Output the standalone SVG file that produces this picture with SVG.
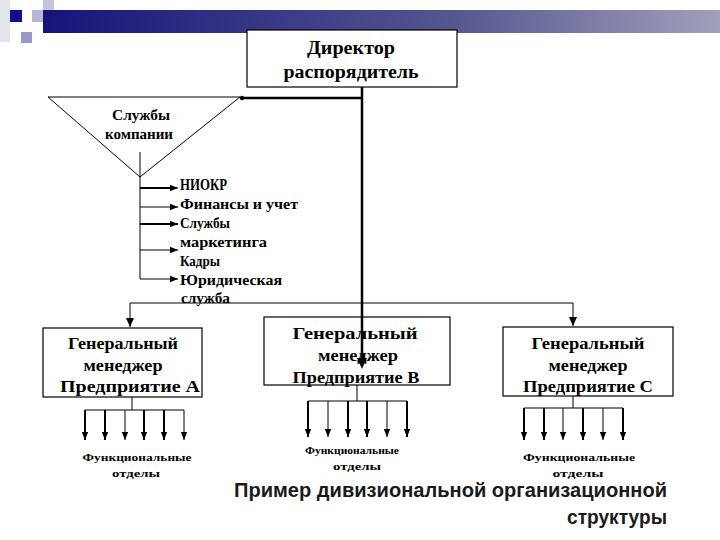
<svg xmlns="http://www.w3.org/2000/svg" width="720" height="540" viewBox="0 0 720 540">
<style>
.t{font-family:"Liberation Serif","Times New Roman",serif;font-weight:bold;fill:#000;text-anchor:middle}
.big{font-size:18px}
.mid{font-size:17px}
.sm{font-size:15px}
.lst{font-size:15px;text-anchor:start}
.tiny{font-size:11px}
.box{fill:#fff;stroke:#000;stroke-width:1.2}
.ln{stroke:#000;stroke-width:1;fill:none}
.thk{stroke:#000;stroke-width:2.5;fill:none}
.cap{font-family:"Liberation Sans",Arial,sans-serif;font-size:20px;font-weight:bold;fill:#1a1a1a;text-anchor:end}
</style>
<defs>
<linearGradient id="bar" x1="0" y1="0" x2="1" y2="0">
<stop offset="0" stop-color="#14147a"/>
<stop offset="0.6" stop-color="#55558f"/>
<stop offset="1" stop-color="#a0a0bc"/>
</linearGradient>
<marker id="ar" viewBox="0 0 10 10" refX="10" refY="5" markerWidth="8" markerHeight="8" markerUnits="userSpaceOnUse" orient="auto">
<path d="M0,1 L10,5 L0,9 z" fill="#000"/>
</marker>
</defs>
<g id="decor">
<rect x="0" y="0" width="10" height="42" fill="#e4e4ec"/>
<rect x="43" y="0" width="11" height="11" fill="#c4c4dc"/>
<rect x="32" y="10" width="22" height="12" fill="#b8b8d4"/>
<rect x="10" y="10" width="12" height="12" fill="#10108a"/>
<rect x="21" y="32" width="11" height="11" fill="#9898c8"/>
<rect x="43" y="10" width="677" height="23" fill="url(#bar)"/>
</g>
<g id="connectors">
<polyline class="thk" points="242,98 362,98"/>
<circle cx="242" cy="98" r="2.2" fill="#000"/>
<line class="thk" x1="362" y1="87" x2="362" y2="360"/>
<path d="M357,358 L362,369 L367,358 z" fill="#000"/>
<line class="ln" x1="140" y1="152" x2="140" y2="279"/>
<line class="thk" x1="140" y1="188" x2="170" y2="188" style="stroke-width:2"/>
<line class="ln" x1="170" y1="188" x2="178" y2="188" marker-end="url(#ar)"/>
<line class="ln" x1="140" y1="207" x2="178" y2="207" marker-end="url(#ar)"/>
<line class="ln" x1="140" y1="224" x2="178" y2="224" marker-end="url(#ar)" style="stroke-width:2"/>
<line class="ln" x1="140" y1="250" x2="178" y2="250" marker-end="url(#ar)"/>
<line class="ln" x1="140" y1="279" x2="178" y2="279" marker-end="url(#ar)"/>
<polyline class="ln" points="130,327 130,303 573,303 573,326"/>
<path d="M126,318 L130,327 L134,318 z" fill="#000"/>
<path d="M569,317 L573,326 L577,317 z" fill="#000"/>
<g id="fa">
<line class="ln" x1="132" y1="397" x2="132" y2="410"/>
<line class="ln" x1="85" y1="410" x2="184" y2="410"/>
<line class="thk" x1="85" y1="410" x2="85" y2="440" style="stroke-width:2" marker-end="url(#ar)"/>
<line class="thk" x1="105" y1="410" x2="105" y2="440" style="stroke-width:2" marker-end="url(#ar)"/>
<line class="ln" x1="125" y1="410" x2="125" y2="440" marker-end="url(#ar)"/>
<line class="thk" x1="144" y1="410" x2="144" y2="440" style="stroke-width:2" marker-end="url(#ar)"/>
<line class="thk" x1="164" y1="410" x2="164" y2="440" style="stroke-width:2" marker-end="url(#ar)"/>
<line class="ln" x1="184" y1="410" x2="184" y2="440" marker-end="url(#ar)"/>
</g>
<g id="fb">
<line class="ln" x1="357" y1="385" x2="357" y2="401"/>
<line class="ln" x1="308" y1="401" x2="407" y2="401"/>
<line class="thk" x1="308" y1="401" x2="308" y2="437" style="stroke-width:2" marker-end="url(#ar)"/>
<line class="ln" x1="328" y1="401" x2="328" y2="437" marker-end="url(#ar)"/>
<line class="thk" x1="348" y1="401" x2="348" y2="437" style="stroke-width:2" marker-end="url(#ar)"/>
<line class="thk" x1="367" y1="401" x2="367" y2="437" style="stroke-width:2" marker-end="url(#ar)"/>
<line class="ln" x1="387" y1="401" x2="387" y2="437" marker-end="url(#ar)"/>
<line class="thk" x1="407" y1="401" x2="407" y2="437" style="stroke-width:2" marker-end="url(#ar)"/>
</g>
<g id="fc">
<line class="ln" x1="573" y1="396" x2="573" y2="408"/>
<line class="ln" x1="524" y1="408" x2="623" y2="408"/>
<line class="thk" x1="524" y1="408" x2="524" y2="440" style="stroke-width:2" marker-end="url(#ar)"/>
<line class="thk" x1="544" y1="408" x2="544" y2="440" style="stroke-width:2" marker-end="url(#ar)"/>
<line class="ln" x1="563" y1="408" x2="563" y2="440" marker-end="url(#ar)"/>
<line class="thk" x1="583" y1="408" x2="583" y2="440" style="stroke-width:2" marker-end="url(#ar)"/>
<line class="ln" x1="603" y1="408" x2="603" y2="440" marker-end="url(#ar)"/>
<line class="thk" x1="623" y1="408" x2="623" y2="440" style="stroke-width:2" marker-end="url(#ar)"/>
</g>
</g>
<g id="director">
<rect class="box" x="247" y="30" width="210" height="57"/>
<text class="t big" x="351" y="54" textLength="88" lengthAdjust="spacingAndGlyphs">Директор</text>
<text class="t big" x="351" y="78" textLength="135" lengthAdjust="spacingAndGlyphs">распорядитель</text>
</g>
<g id="services">
<path d="M48,97 L240,97 L140,177 Z" class="ln"/>
<text class="t sm" x="141" y="120" textLength="58" lengthAdjust="spacingAndGlyphs">Службы</text>
<text class="t sm" x="139" y="139" textLength="68" lengthAdjust="spacingAndGlyphs">компании</text>
</g>
<g id="servicelist">
<text class="t lst" x="180" y="190" textLength="47" lengthAdjust="spacingAndGlyphs" style="font-size:16px">НИОКР</text>
<text class="t lst" x="180" y="209" textLength="118" lengthAdjust="spacingAndGlyphs">Финансы и учет</text>
<text class="t lst" x="180" y="228" textLength="50" lengthAdjust="spacingAndGlyphs">Службы</text>
<text class="t lst" x="180" y="247" textLength="87" lengthAdjust="spacingAndGlyphs">маркетинга</text>
<text class="t lst" x="180" y="266" textLength="40" lengthAdjust="spacingAndGlyphs">Кадры</text>
<text class="t lst" x="180" y="285" textLength="102" lengthAdjust="spacingAndGlyphs">Юридическая</text>
<text class="t lst" x="181" y="303" textLength="49" lengthAdjust="spacingAndGlyphs">служба</text>
</g>
<g id="gmA">
<rect class="box" x="43" y="328" width="159" height="69"/>
<text class="t mid" x="123" y="349" textLength="110" lengthAdjust="spacingAndGlyphs">Генеральный</text>
<text class="t mid" x="123" y="371" textLength="79" lengthAdjust="spacingAndGlyphs">менеджер</text>
<text class="t mid" x="130" y="392" textLength="140" lengthAdjust="spacingAndGlyphs">Предприятие А</text>
</g>
<g id="gmB">
<rect class="box" x="264" y="317" width="186" height="68" style="fill:none"/>
<text class="t mid" x="355" y="339" textLength="125" lengthAdjust="spacingAndGlyphs">Генеральный</text>
<text class="t mid" x="358" y="361" textLength="80" lengthAdjust="spacingAndGlyphs">менеджер</text>
<text class="t mid" x="356" y="383" textLength="127" lengthAdjust="spacingAndGlyphs">Предприятие В</text>
</g>
<g id="gmC">
<rect class="box" x="503" y="327" width="170" height="69"/>
<text class="t mid" x="588" y="349" textLength="113" lengthAdjust="spacingAndGlyphs">Генеральный</text>
<text class="t mid" x="588" y="371" textLength="79" lengthAdjust="spacingAndGlyphs">менеджер</text>
<text class="t mid" x="588" y="392" textLength="130" lengthAdjust="spacingAndGlyphs">Предприятие С</text>
</g>
<g id="depA">
<text class="t tiny" x="137" y="461" textLength="109" lengthAdjust="spacingAndGlyphs">Функциональные</text>
<text class="t tiny" x="136" y="477" textLength="48" lengthAdjust="spacingAndGlyphs">отделы</text>
</g>
<g id="depB">
<text class="t tiny" x="352" y="454" textLength="94" lengthAdjust="spacingAndGlyphs">Функциональные</text>
<text class="t tiny" x="357" y="470" textLength="48" lengthAdjust="spacingAndGlyphs">отделы</text>
</g>
<g id="depC">
<text class="t tiny" x="579" y="461" textLength="112" lengthAdjust="spacingAndGlyphs">Функциональные</text>
<text class="t tiny" x="578" y="477" textLength="51" lengthAdjust="spacingAndGlyphs">отделы</text>
</g>
<g id="caption">
<text class="cap" x="667" y="497" textLength="433" lengthAdjust="spacingAndGlyphs">Пример дивизиональной организационной</text>
<text class="cap" x="667" y="524" textLength="100" lengthAdjust="spacingAndGlyphs">структуры</text>
</g>
</svg>
